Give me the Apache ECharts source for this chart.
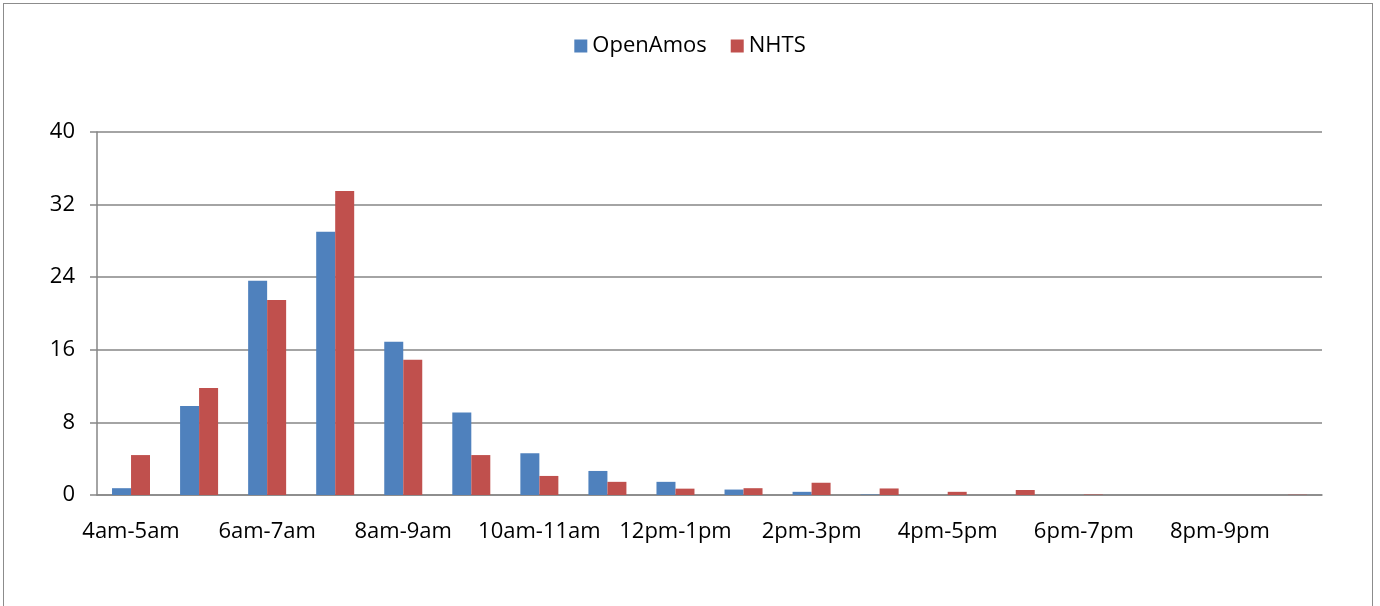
<!DOCTYPE html>
<html>
<head>
<meta charset="utf-8">
<script src="https://cdn.jsdelivr.net/npm/echarts@6/dist/echarts.min.js"></script>
<style>
  html, body { margin: 0; padding: 0; background: #fff; }
  .frame {
    position: absolute;
    left: 3px; top: 3px;
    width: 1370px; height: 610px;
    border: 1.5px solid #8c8c8c;
    box-sizing: border-box;
  }
  #chart { position: absolute; left: 0; top: 0; width: 1380px; height: 606px; }
</style>
</head>
<body>
<div class="frame"></div>
<div id="chart"></div>
<script>
const categories = [
  '4am-5am', '5am-6am', '6am-7am', '7am-8am', '8am-9am', '9am-10am',
  '10am-11am', '11am-12pm', '12pm-1pm', '1pm-2pm', '2pm-3pm', '3pm-4pm',
  '4pm-5pm', '5pm-6pm', '6pm-7pm', '7pm-8pm', '8pm-9pm', '9pm-10pm'
]
const openAmos = [0.75, 9.8, 23.6, 29.0, 16.9, 9.1, 4.6, 2.65, 1.45, 0.6, 0.35, 0.05, 0, 0, 0, 0, 0, 0]
const nhts = [4.4, 11.8, 21.5, 33.5, 14.9, 4.4, 2.1, 1.45, 0.7, 0.75, 1.35, 0.72, 0.35, 0.55, 0.05, 0, 0, 0.03]
const yTicks = { min: 0, max: 40, step: 8 }

const myChart = echarts.init(document.getElementById('chart'))
const font = '"Open Sans", sans-serif'
const options = {
  animation: false,
  color: ['#4F81BD', '#C0504D'],
  legend: {
    top: 30,
    left: 'center',
    itemWidth: 13,
    itemHeight: 13,
    itemGap: 24,
    icon: 'rect',
    textStyle: { fontFamily: font, fontSize: 22, color: '#000' }
  },
  grid: {
    top: 132,
    left: 97,
    right: 58,
    bottom: 111,
    containLabel: false
  },
  xAxis: {
    type: 'category',
    data: categories,
    axisLine: { lineStyle: { color: '#868686', width: 1.5 } },
    axisTick: {
      interval: 0,
      length: 7,
      lineStyle: { color: '#868686', width: 1.5 }
    },
    axisLabel: {
      interval: 1,
      margin: 26,
      fontFamily: font,
      fontSize: 22,
      color: '#000'
    }
  },
  yAxis: {
    type: 'value',
    min: yTicks.min,
    max: yTicks.max,
    interval: yTicks.step,
    axisLine: { show: true, lineStyle: { color: '#868686', width: 1.5 } },
    axisTick: { show: true, length: 7, lineStyle: { color: '#868686', width: 1.5 } },
    axisLabel: {
      margin: 22,
      fontFamily: font,
      fontSize: 22,
      color: '#000'
    },
    splitLine: { lineStyle: { color: '#868686', width: 1.5 } }
  },
  series: [
    {
      name: 'OpenAmos',
      type: 'bar',
      data: openAmos,
      barWidth: 19,
      barGap: '0%'
    },
    {
      name: 'NHTS',
      type: 'bar',
      data: nhts,
      barWidth: 19,
      barGap: '0%'
    }
  ]
}
myChart.setOption(options)
</script>
</body>
</html>
